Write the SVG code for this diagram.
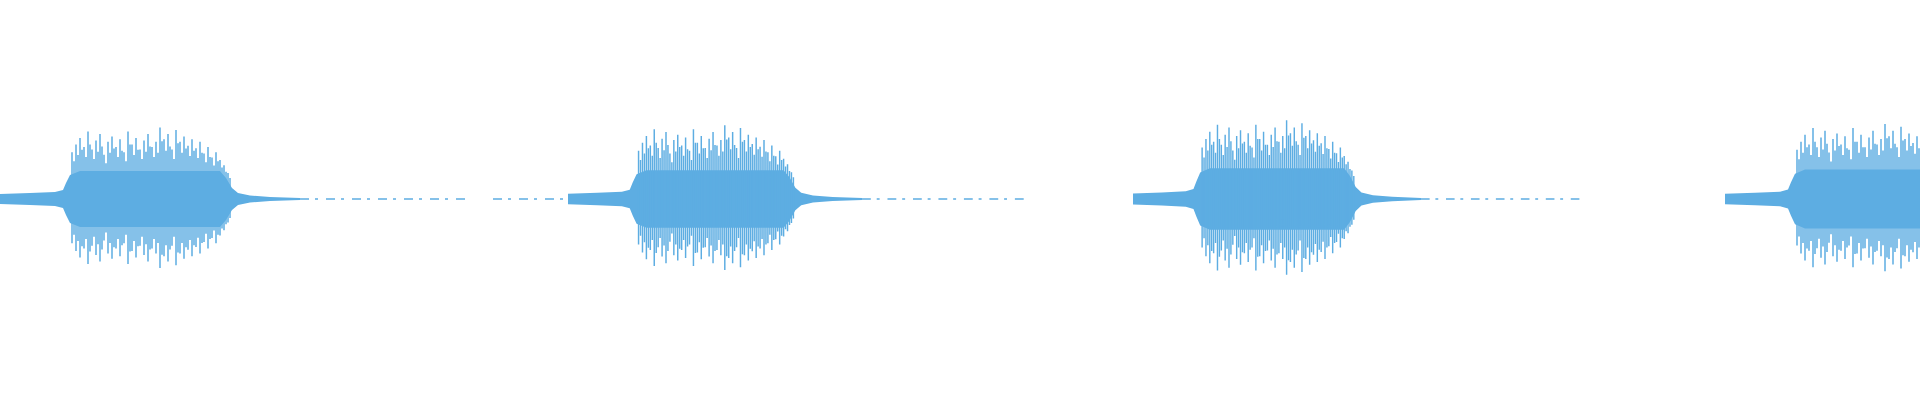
<svg xmlns="http://www.w3.org/2000/svg" width="1920" height="400" viewBox="0 0 1920 400">
<style>.b{fill:#5dade2}.s{stroke:#5dade2;stroke-width:1.5;fill:none}.t{stroke:#5dade2;stroke-width:1.5;fill:none;stroke-dasharray:9 6 3 8}</style>
<defs>
<path id="sp" class="s" d="M72 163V233M76 157V239M80 152V244M84 159V237M88 147V249M92 161V235M96 154V242M100 149V247M104 165V231M108 155V241M112 151V245M116 159V237M120 153V243M124 163V233M128 147V249M132 157V239M136 152V244M140 161V235M144 154V242M148 149V247M152 159V237M156 155V241M160 144V252M164 153V243M168 149V247M172 161V235M176 146V250M180 155V241M184 151V245M188 158V238M192 153V243M196 160V236M200 155V241M204 164V232M208 159V237M212 167V229M216 163V233M220 169V227M224 173V223M228 179V217"/>
<g id="burst">
<polygon class="b" points="0,194 30,193 55,192 63,190 66,183 70,175 80,171 220,171 226,178 232,188 238,193 250,195.5 270,197 300,198 300,200 270,201 250,202.5 238,205 232,210 226,220 220,227 80,227 70,223 66,215 63,208 55,206 30,205 0,204"/>
<use href="#sp" transform="translate(0,199) scale(1,1.3) translate(0,-199)"/>
<use href="#sp" transform="translate(2,199) scale(1,1.05) translate(0,-199)"/>
<path class="t" d="M300 199H470"/>
</g>
</defs>
<use href="#burst"/>
<path class="t" d="M493 199H563"/>
<use href="#burst" transform="translate(568,199) scale(0.98,1.03) translate(0,-199)"/>
<use href="#burst" transform="translate(1133,199) scale(0.96,1.1) translate(0,-199)"/>
<use href="#burst" transform="translate(1725,199) scale(1,1.05) translate(0,-199)"/>
</svg>
